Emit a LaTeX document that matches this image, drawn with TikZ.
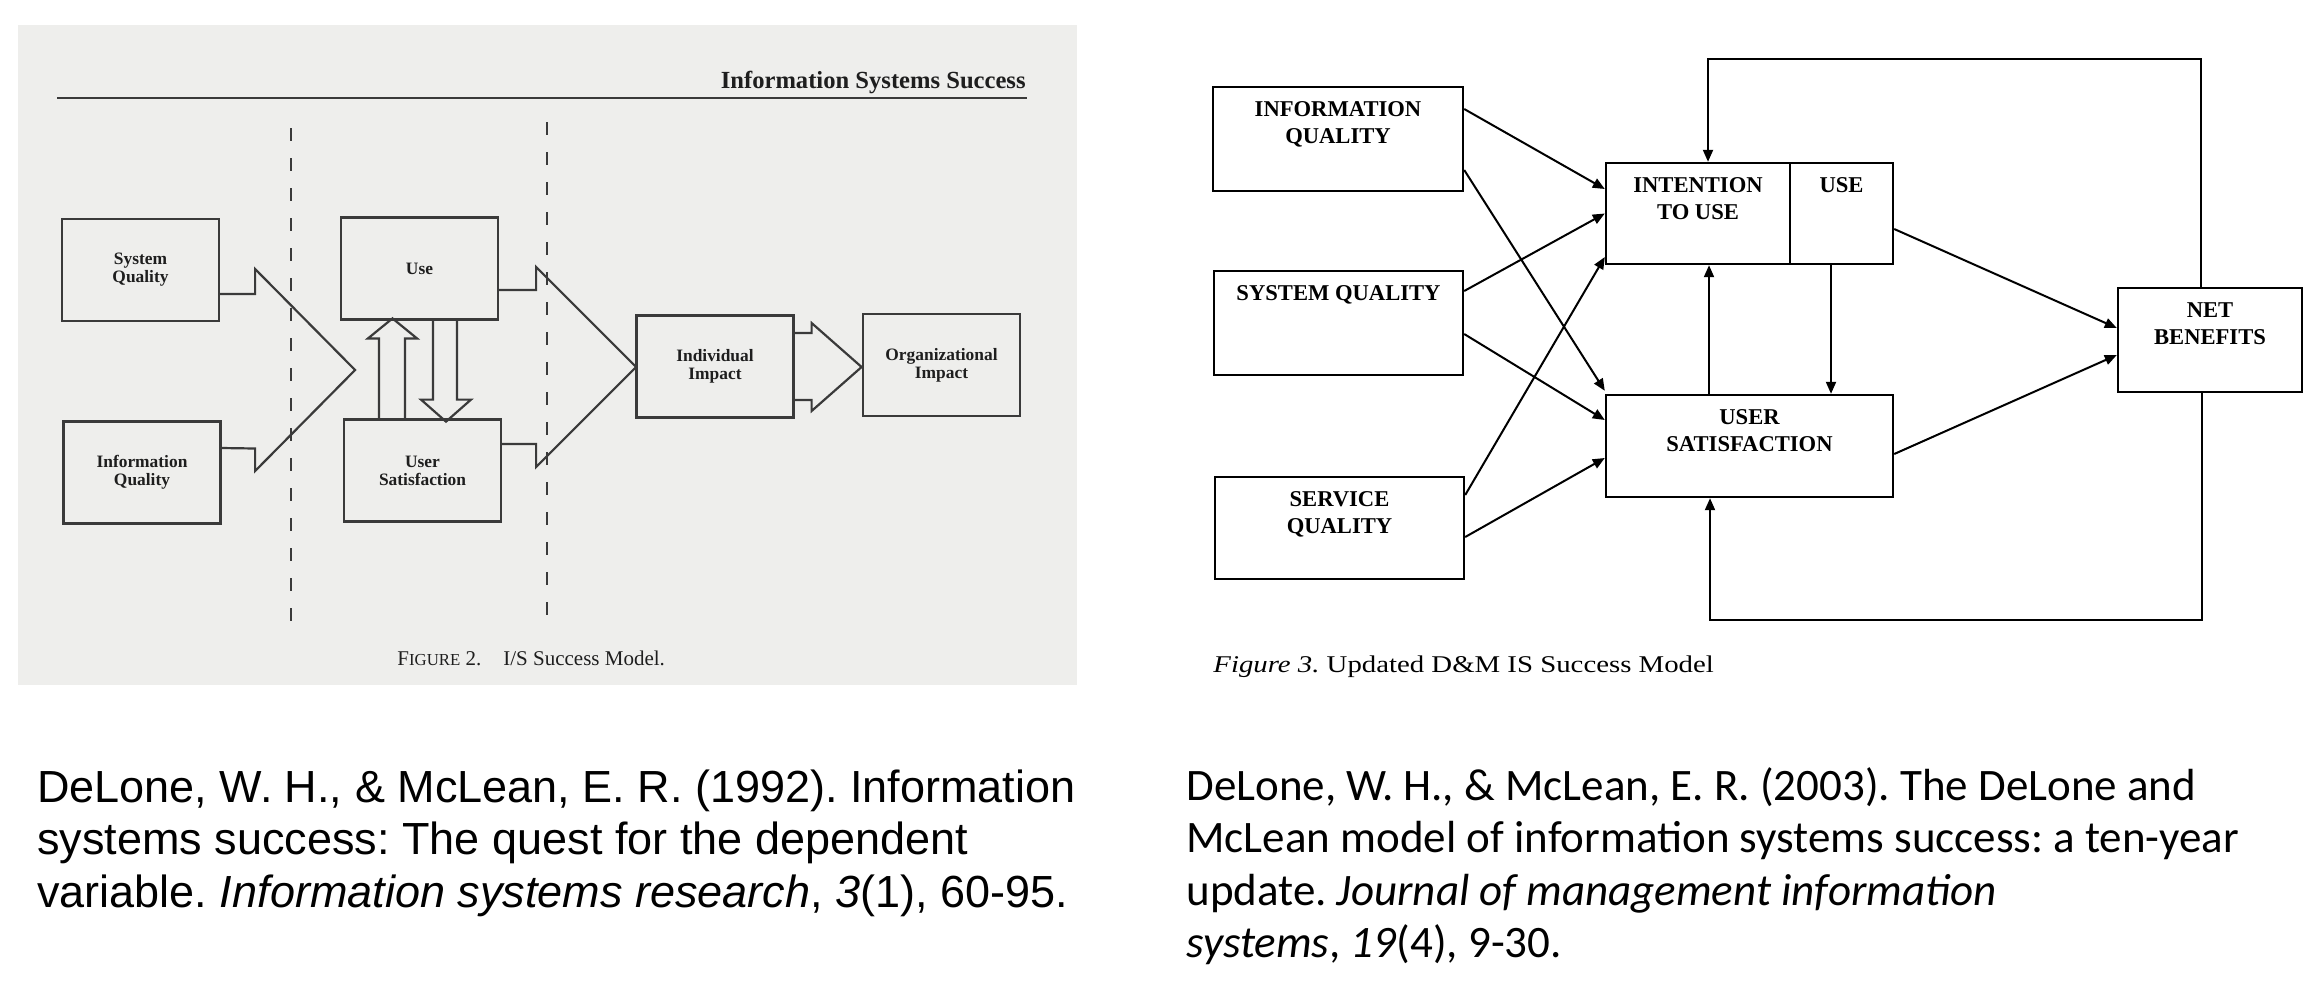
\documentclass[tikz,border=0pt]{standalone}
\usepackage{fontspec}
\setmainfont{Liberation Serif}
\newfontfamily\citesans{Liberation Sans}
\newfontfamily\citecalib{Carlito}
\newfontfamily\capwide[FakeStretch=1.2]{Liberation Serif}
\frenchspacing
\usetikzlibrary{positioning,arrows.meta,calc}
\definecolor{scanGray}{RGB}{238,238,236}
\definecolor{scanInk}{RGB}{58,58,58}
\definecolor{scanText}{RGB}{30,30,30}

\tikzset{
  oldbox/.style={draw=scanInk, line width=1.1pt, minimum width=78.5pt, minimum height=51pt,
    inner sep=0pt, align=center, text=scanText, font=\fontsize{8.7}{9}\selectfont\bfseries},
  oldline/.style={draw=scanInk, line width=1.1pt},
  newbox/.style={draw, line width=1.2pt, inner sep=0pt},
  newtext/.style={anchor=north, yshift=-7.5pt, inner sep=0pt, align=center,
    font=\fontsize{11.3}{13.5}\selectfont\bfseries},
  newarrow/.style={line width=1pt, -{Triangle[length=6pt,width=5pt]}},
}

\begin{document}
\begin{tikzpicture}[x=0.5pt, y=-0.5pt]
  \fill[white] (0,0) rectangle (2324,998);
  \useasboundingbox (0,0) rectangle (2324,998);

  \fill[scanGray] (18,25) rectangle (1077,685);
  \node[anchor=base east, inner sep=0pt, text=scanText, font=\fontsize{12.3}{14}\selectfont\bfseries]
    (oldhead) at (1026,88) {Information Systems Success};
  \draw[oldline, line width=1pt] (57,98) -- (1027,98);
  \draw[oldline, line width=1pt, dash pattern=on 6.5pt off 8.5pt] (291,128) -- (291,627);
  \draw[oldline, line width=1pt, dash pattern=on 6.5pt off 8.5pt] (547,122) -- (547,620);

  \node[oldbox] (oldsys) at (140.5,270) {System\\Quality};
  \node[oldbox] (oldinfo) at (142,472.5) {Information\\Quality};
  \node[oldbox] (olduse) at (419.5,268.5) {Use};
  \node[oldbox] (oldsat) at (422.5,470.5) {User\\Satisfaction};
  \node[oldbox] (oldind) at (715,366.5) {Individual\\Impact};
  \node[oldbox] (oldorg) at (941.5,365) {Organizational\\Impact};

  \draw[oldline] ([yshift=-12pt]oldsys.east) -- ++(35,0) -- ++(0,-25) -- ++(100,101)
    -- ++(-100,101) -- ++(0,-22.5) -- ([yshift=12.25pt]oldinfo.east);
  \draw[oldline] ([yshift=-10.75pt]olduse.east) -- ++(37,0) -- ++(0,-23) -- ++(100,100)
    -- ++(-100,100) -- ++(0,-23) -- ([yshift=13.25pt]oldsat.east);
  \draw[oldline] ([yshift=16.75pt]oldind.east) -- ++(17,0) -- ++(0,-10) -- ++(50,44)
    -- ++(-50,44) -- ++(0,-11) -- ([yshift=-16.75pt]oldind.east);
  \draw[oldline] ([xshift=-21.75pt]oldsat.north) -- ++(0,-80) -- ++(-11,0) -- ++(24.5,-20)
    -- ++(24.5,20) -- ++(-12,0) -- ([xshift=-8.75pt]oldsat.north);
  \draw[oldline] ([xshift=6.75pt]olduse.south) -- ++(0,79) -- ++(-12,0) -- ++(25,22)
    -- ++(25,-22) -- ++(-14,0) -- ([xshift=18.75pt]olduse.south);

  \node[anchor=base west, inner sep=0pt, text=scanText, font=\fontsize{10.5}{12}\selectfont]
    (oldcap) at (397,665) {F{\fontsize{8.4}{10}\selectfont IGURE} 2.\hspace{11pt}I/S Success Model.};

  \node[newbox, minimum width=125pt, minimum height=52pt,
    label={[newtext]north:{INFORMATION\\QUALITY}}] (infoq) at (1338,139) {};
  \node[newbox, minimum width=124.5pt, minimum height=52pt,
    label={[newtext]north:SYSTEM QUALITY}] (sysq) at (1338.5,323) {};
  \node[newbox, minimum width=124.5pt, minimum height=51pt,
    label={[newtext]north:{SERVICE\\QUALITY}}] (servq) at (1339.5,528) {};
  \node[newbox, minimum width=92pt, minimum height=50.5pt,
    label={[newtext]north:{INTENTION\\TO USE}}] (intent) at (1698,213.5) {};
  \node[newbox, minimum width=51.5pt, minimum height=50.5pt,
    label={[newtext]north:USE}] (use) at (1841.5,213.5) {};
  \node[newbox, minimum width=143.5pt, minimum height=51pt,
    label={[newtext]north:{USER\\SATISFACTION}}] (us) at (1749.5,446) {};
  \node[newbox, minimum width=92pt, minimum height=52pt,
    label={[newtext]north:{NET\\BENEFITS}}] (netb) at (2210,340) {};

  \draw[newarrow] ([yshift=15pt]infoq.east) -- ([yshift=12.25pt]intent.west);
  \draw[newarrow] ([yshift=-15.5pt]infoq.east) -- ([yshift=1.5pt]us.north west);
  \draw[newarrow] ([yshift=16pt]sysq.east) -- (intent.west);
  \draw[newarrow] ([yshift=-5.5pt]sysq.east) -- ([yshift=13pt]us.west);
  \draw[newarrow] ([yshift=16.5pt]servq.east) -- ([yshift=-21.75pt]intent.west);
  \draw[newarrow] ([yshift=-4.5pt]servq.east) -- ([yshift=-6pt]us.west);
  \draw[newarrow] ([yshift=-7.75pt]use.east) -- ([yshift=6pt]netb.west);
  \draw[newarrow] ([yshift=-4pt]us.east) -- ([yshift=-7.5pt]netb.west);
  \coordinate (usedrop) at ([xshift=-5.25pt]use.south);
  \coordinate (satrise) at ([xshift=5.5pt]intent.south);
  \draw[newarrow] (usedrop) -- (usedrop |- us.north);
  \draw[newarrow] (satrise |- us.north) -- (satrise);
  \coordinate (fbtop) at (1708,59);
  \coordinate (fbbot) at (1710,620);
  \draw[newarrow] ([xshift=-4.5pt]netb.north) |- (fbtop) -- (fbtop |- intent.north);
  \draw[newarrow] ([xshift=-4pt]netb.south) |- (fbbot) -- (fbbot |- us.south);

  \node[anchor=base west, inner sep=0pt, font=\capwide\fontsize{12}{14}\selectfont]
    (newcap) at (1213,672) {\textit{Figure 3.} Updated D\&M IS Success Model};

  \node[anchor=north west, inner sep=0pt, align=left, font=\citesans\fontsize{22.5}{26.25}\selectfont]
    (cite1992) at (37,769) {DeLone, W. H., \& McLean, E. R. (1992). Information\\
    systems success: The quest for the dependent\\
    variable. \textit{Information systems research}, \textit{3}(1), 60-95.};
  \node[anchor=north west, inner sep=0pt, align=left, font=\citecalib\fontsize{22.5}{26.25}\selectfont]
    (cite2003) at (1186,767) {DeLone, W. H., \& McLean, E. R. (2003). The DeLone and\\
    McLean model of information systems success: a ten-year\\
    update. \textit{Journal of management information}\\
    \textit{systems}, \textit{19}(4), 9-30.};
\end{tikzpicture}
\end{document}
